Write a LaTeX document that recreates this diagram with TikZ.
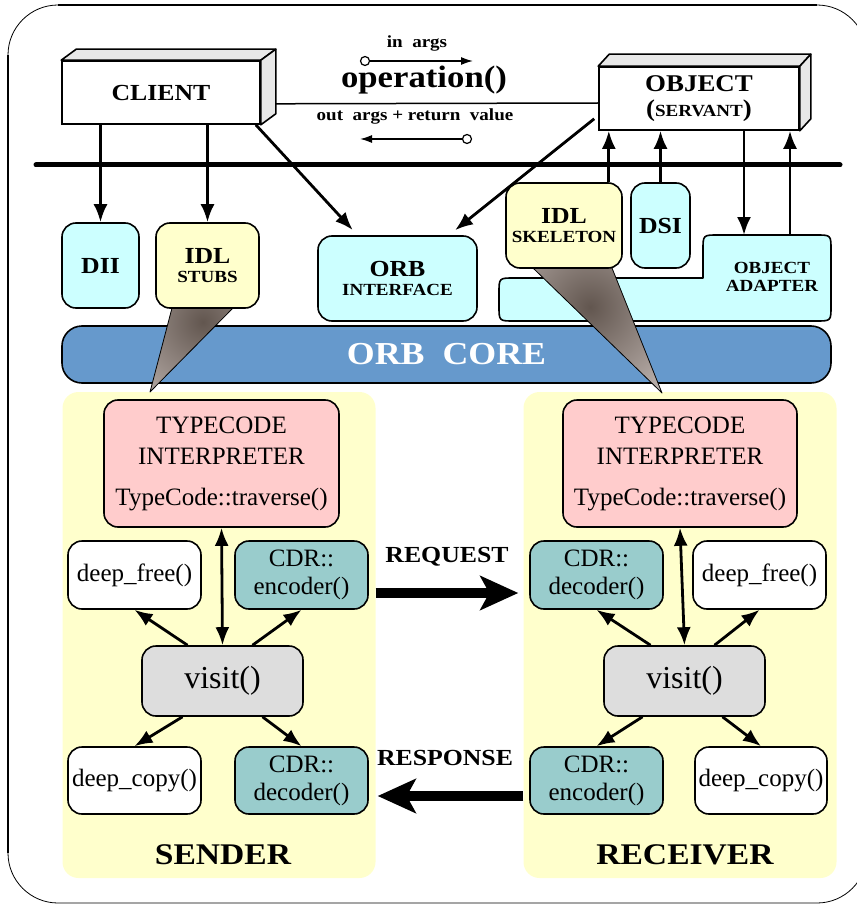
\documentclass[tikz,border=0pt]{standalone}
\usepackage{fontspec}
\setmainfont{Liberation Serif}
\newfontfamily\hdfont[FakeStretch=1.12]{Liberation Serif}
\usepackage{tikz}
\usetikzlibrary{arrows.meta,calc}

\definecolor{cyanfill}{HTML}{CCFFFF}
\definecolor{yelfill}{HTML}{FFFFCC}
\definecolor{corefill}{HTML}{6699CC}
\definecolor{pinkfill}{HTML}{FFCCCC}
\definecolor{tealfill}{HTML}{99CCCC}
\definecolor{grayfill}{HTML}{DDDDDD}
\definecolor{facegray}{HTML}{E8E8E8}
\definecolor{fundark}{HTML}{62564F}
\definecolor{funlight}{HTML}{CFC5C1}

\newcommand\hdbf[2]{\hdfont\bfseries\fontsize{#1}{#2}\selectfont}
\newcommand\rmtx[2]{\fontsize{#1}{#2}\selectfont}

\tikzset{
  blk/.style={draw, line width=1.6pt, rounded corners=14pt, align=center, inner sep=0pt},
  face/.style={draw, line width=1.6pt, fill=facegray, line join=round},
  arr/.style={line width=2.8pt, -{Latex[length=18pt,width=14pt]}},
  dblarr/.style={line width=2.8pt, {Latex[length=18pt,width=14pt]}-{Latex[length=18pt,width=14pt]}},
  argarr/.style={line width=1.5pt, -{Latex[length=12pt,width=8pt]}},
  bigarr/.style={line width=10pt, -{Stealth[length=38pt,width=34pt,inset=9pt]}},
  ringdot/.style={draw, circle, fill=white, line width=1.2pt, inner sep=0pt, minimum size=9pt},
  panel/.style={fill=yelfill, rounded corners=16pt, inner sep=0pt, minimum width=313pt, minimum height=486pt},
}

\begin{document}
\begin{tikzpicture}[x=1pt,y=-1pt]
  \useasboundingbox (0,0) rectangle (856,904);
  % outer frame, thin corners and heavy sides (right side falls off the page)
  \draw[line width=0.8pt] (8,55) .. controls (8,27.4) and (30.4,5) .. (58,5)
                          (817,5) .. controls (844.6,5) and (867,27.4) .. (867,55)
                          (8,853) .. controls (8,880.6) and (30.4,903) .. (58,903) -- (817,903)
                                  .. controls (844.6,903) and (867,880.6) .. (867,853);
  \draw[line width=2pt] (8,55) -- (8,853) (58,5) -- (817,5);
  % bus
  \draw[line width=5pt, line cap=round] (36,165) -- (840,165);

  % client and object (3d boxes)
  \node[draw, line width=1.6pt, fill=white, minimum width=198pt, minimum height=63pt,
        inner sep=0pt, font=\hdbf{23}{26}] (client) at (161,92.5) {CLIENT};
  \filldraw[face] (client.north west) -- ++(15,-11) -- ($(client.north east)+(15,-11)$) -- (client.north east) -- cycle;
  \filldraw[face] (client.north east) -- ++(15,-11) -- ($(client.south east)+(15,-11)$) -- (client.south east) -- cycle;

  \node[draw, line width=1.6pt, fill=white, minimum width=200pt, minimum height=63pt,
        inner sep=0pt, align=center, font=\hdbf{24}{25}] (obj) at (699,98.5)
        {OBJECT\\({\hdbf{17}{25}SERVANT})};
  \filldraw[face] (obj.north west) -- ++(11,-12) -- ($(obj.north east)+(11,-12)$) -- (obj.north east) -- cycle;
  \filldraw[face] (obj.north east) -- ++(11,-12) -- ($(obj.south east)+(11,-12)$) -- (obj.south east) -- cycle;

  % operation()
  \draw[line width=1.5pt] ($(client.south east)+(15,-21)$) -- (obj.west |- 0,103);
  \node[font=\hdbf{17}{20}] (inargs) at (417,43) {in\ \ args};
  \node[font=\hdbf{31}{34}] (opname) at (424,80) {operation()};
  \node[font=\hdbf{17}{20}] (outargs) at (415,116) {out\ \ args + return\ \ value};
  \coordinate (inEnd) at (473,61);
  \coordinate (outEnd) at (360,139);
  \node[ringdot] (inDot) at (365,61) {};
  \node[ringdot] (outDot) at (467,139) {};
  \draw[argarr] (inDot) -- (inEnd);
  \draw[argarr] (outDot) -- (outEnd);

  % orb core and object adapter
  \node[blk, fill=corefill, rounded corners=20pt, minimum width=769pt, minimum height=57pt,
        text=white, font=\hdbf{32}{34}] (core) at (446.5,354.5) {ORB\ \ CORE};
  \filldraw[line width=1.6pt, fill=cyanfill, line join=round]
     (514,278) -- (703,278) -- (703,250) .. controls (703,235) .. (718,235)
     -- (816,235) .. controls (831,235) .. (831,250)
     -- (831,306) .. controls (831,321) .. (816,321)
     -- (514,321) .. controls (499,321) .. (499,306)
     -- (499,293) .. controls (499,278) .. (514,278) -- cycle;
  \node[align=center, font=\hdbf{17}{18}] (adapter) at (772,277) {OBJECT\\ADAPTER};
  \coordinate (oaIn) at (744,235);
  \coordinate (oaOut) at (790,235);

  % sender / receiver panels
  \node[panel] (sender) at (219,635) {};
  \node[panel] (receiver) at (680,635) {};

  % funnels
  \begin{scope}
    \clip (172,308) -- (233,308) -- (150,392) -- cycle;
    \shade[inner color=fundark, outer color=funlight] (203,322) circle (120pt);
  \end{scope}
  \draw[line width=0.8pt, line join=round] (172,308) -- (150,392) -- (233,308);
  \begin{scope}
    \clip (533,268) -- (612,268) -- (662,393) -- cycle;
    \shade[inner color=fundark, outer color=funlight] (590,307) circle (130pt);
  \end{scope}
  \draw[line width=0.8pt, line join=round] (533,268) -- (662,393) -- (612,268);

  % client side interfaces
  \node[blk, fill=cyanfill, minimum width=77pt, minimum height=85pt, font=\hdbf{23}{26}] (dii) at (100.5,265.5) {DII};
  \node[blk, fill=yelfill, minimum width=103pt, minimum height=85pt, font=\hdbf{23}{18.5}] (stubs) at (207.5,265.5)
        {IDL\\{\hdbf{17}{18.5}STUBS}};
  \node[blk, fill=cyanfill, minimum width=159pt, minimum height=85pt, font=\hdbf{23}{18.5}] (orbif) at (397.5,278.5)
        {ORB\\{\hdbf{17}{18.5}INTERFACE}};
  % server side interfaces
  \node[blk, fill=yelfill, minimum width=116pt, minimum height=85pt, font=\hdbf{23}{18.5}] (skel) at (564,225.5)
        {IDL\\{\hdbf{17}{18.5}SKELETON}};
  \node[blk, fill=cyanfill, minimum width=59pt, minimum height=85pt, font=\hdbf{23}{26}] (dsi) at (660.5,225.5) {DSI};
  \coordinate (skTop) at ([xshift=-14pt]skel.north east);

  % top arrows
  \draw[arr] (dii.north |- client.south) -- (dii.north);
  \draw[arr] (stubs.north |- client.south) -- (stubs.north);
  \draw[arr, shorten >=7pt] ([xshift=-5pt]client.south east) -- ([xshift=-40pt]orbif.north);
  \draw[arr, shorten >=8pt] ($(obj.south west)+(-4,-12)$) -- ([xshift=-29pt]orbif.north east);
  \draw[arr] (skTop) -- (skTop |- obj.south);
  \draw[arr] (dsi.north) -- (dsi.north |- obj.south);
  \draw[arr] (obj.south -| oaIn) -- (oaIn);
  \draw[arr] (oaOut) -- (obj.south -| oaOut);

  % sender
  \node[blk, fill=pinkfill, minimum width=235pt, minimum height=127pt, font=\rmtx{25}{31}] (tcL) at (221.5,463.5)
        {TYPECODE\\INTERPRETER\\[10pt]TypeCode::traverse()};
  \node[blk, fill=white, minimum width=133pt, minimum height=68pt, font=\rmtx{25}{28}] (freeL) at (134.5,575) {deep\_free()};
  \node[blk, fill=tealfill, minimum width=133pt, minimum height=68pt, font=\rmtx{25}{28}] (encL) at (301.5,575) {CDR::\\encoder()};
  \node[blk, fill=grayfill, minimum width=161pt, minimum height=70pt, font=\rmtx{32}{36}] (visitL) at (222.5,681) {visit()};
  \node[blk, fill=white, minimum width=133pt, minimum height=67pt, font=\rmtx{25}{28}] (copyL) at (134.5,780.5) {deep\_copy()};
  \node[blk, fill=tealfill, minimum width=133pt, minimum height=67pt, font=\rmtx{25}{28}] (decL) at (301.5,780.5) {CDR::\\decoder()};
  \node[font=\hdbf{30}{32}] (sendlbl) at (223,855) {SENDER};
  \draw[dblarr] (tcL.south) -- (visitL.north);
  \draw[arr] ([xshift=-35pt]visitL.north) -- (freeL.south);
  \draw[arr] ([xshift=30pt]visitL.north) -- (encL.south);
  \draw[arr] ([xshift=-40pt]visitL.south) -- (copyL.north);
  \draw[arr] ([xshift=40pt]visitL.south) -- (decL.north);

  % receiver
  \node[blk, fill=pinkfill, minimum width=234pt, minimum height=127pt, font=\rmtx{25}{31}] (tcR) at (680,463.5)
        {TYPECODE\\INTERPRETER\\[10pt]TypeCode::traverse()};
  \node[blk, fill=tealfill, minimum width=133pt, minimum height=68pt, font=\rmtx{25}{28}] (decR) at (596.5,575) {CDR::\\decoder()};
  \node[blk, fill=white, minimum width=133pt, minimum height=68pt, font=\rmtx{25}{28}] (freeR) at (759.5,575) {deep\_free()};
  \node[blk, fill=grayfill, minimum width=161pt, minimum height=70pt, font=\rmtx{32}{36}] (visitR) at (684.5,681) {visit()};
  \node[blk, fill=tealfill, minimum width=133pt, minimum height=67pt, font=\rmtx{25}{28}] (encR) at (596.5,780.5) {CDR::\\encoder()};
  \node[blk, fill=white, minimum width=132pt, minimum height=67pt, font=\rmtx{25}{28}] (copyR) at (761,780.5) {deep\_copy()};
  \node[font=\hdbf{30}{32}] (recvlbl) at (685,855) {RECEIVER};
  \draw[dblarr] (tcR.south) -- (visitR.north);
  \draw[arr] ([xshift=-34pt]visitR.north) -- (decR.south);
  \draw[arr] ([xshift=30pt]visitR.north) -- (freeR.south);
  \draw[arr] ([xshift=-42pt]visitR.south) -- (encR.north);
  \draw[arr] ([xshift=38pt]visitR.south) -- (copyR.north);

  % request / response
  \node[font=\hdbf{23}{26}] (reqlbl) at (447,557) {REQUEST};
  \node[font=\hdbf{23}{26}] (reslbl) at (445,758) {RESPONSE};
  \draw[bigarr, shorten >=5pt] (sender.east |- 0,593) -- (receiver.west |- 0,593);
  \draw[bigarr, shorten >=2pt] (receiver.west |- 0,796) -- (sender.east |- 0,796);
\end{tikzpicture}
\end{document}
